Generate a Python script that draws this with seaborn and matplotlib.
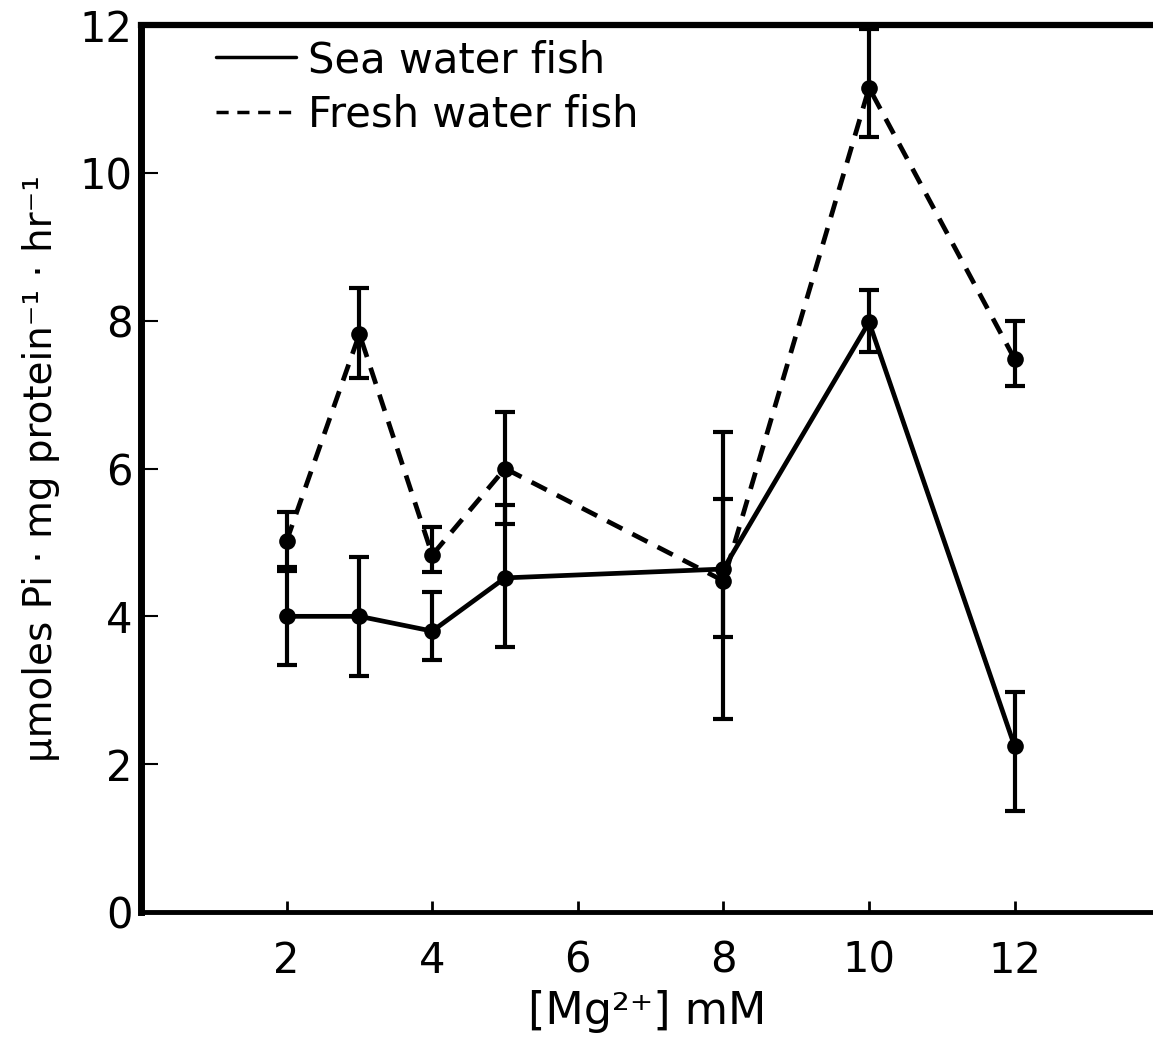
import matplotlib
matplotlib.use("Agg")
import matplotlib.pyplot as plt
import seaborn as sns
import pandas as pd
import numpy as np
from matplotlib.lines import Line2D

# ---- data ----
mg_conc = [2, 3, 4, 5, 8, 10, 12]
sea_mean = [4.0, 4.0, 3.8, 4.52, 4.64, 7.98, 2.24]
sea_low = [3.34, 3.19, 3.41, 3.59, 2.61, 7.58, 1.36]
sea_high = [4.67, 4.8, 4.33, 5.5, 6.5, 8.42, 2.97]
fresh_mean = [5.02, 7.82, 4.83, 6.0, 4.48, 11.15, 7.48]
fresh_low = [4.62, 7.23, 4.6, 5.25, 3.72, 10.49, 7.12]
fresh_high = [5.41, 8.44, 5.21, 6.77, 5.59, 11.95, 8.0]
series_names = ["Sea water fish", "Fresh water fish"]
x_ticks = [2, 4, 6, 8, 10, 12]
y_ticks = [0, 2, 4, 6, 8, 10, 12]

sns.set_theme(style="ticks")
plt.rcParams["font.family"] = ["DejaVu Sans"]
plt.rcParams["mathtext.default"] = "regular"
plt.rcParams["text.color"] = "black"
plt.rcParams["axes.labelcolor"] = "black"
plt.rcParams["xtick.color"] = "black"
plt.rcParams["ytick.color"] = "black"

df = pd.DataFrame({
    "mg": mg_conc * 2,
    "rate": sea_mean + fresh_mean,
    "fish": [series_names[0]] * len(mg_conc) + [series_names[1]] * len(mg_conc),
})

fig = plt.figure(figsize=(11.53, 10.47), dpi=100)
ax = fig.add_axes([141 / 1153, 135 / 1047, (1153 - 141) / 1153, (912 - 25) / 1047])

lw = 3.4
sns.lineplot(data=df, x="mg", y="rate", style="fish", hue="fish",
             palette={series_names[0]: "black", series_names[1]: "black"},
             dashes={series_names[0]: "", series_names[1]: (3.6, 2.4)},
             markers={series_names[0]: "o", series_names[1]: "o"},
             markersize=12, markeredgewidth=0, linewidth=lw, ax=ax,
             legend=False, clip_on=False)

for mean, lo, hi in [(sea_mean, sea_low, sea_high), (fresh_mean, fresh_low, fresh_high)]:
    m = np.array(mean)
    yerr = np.vstack([m - np.array(lo), np.array(hi) - m])
    ax.errorbar(mg_conc, m, yerr=yerr, fmt="none", ecolor="black",
                elinewidth=3, capsize=7.5, capthick=3, clip_on=False)

ax.set_xlim(0, 13.9)
ax.set_ylim(0, 12)
ax.set_xticks(x_ticks)
ax.set_yticks(y_ticks)
ax.set_xticklabels([str(t) for t in x_ticks], fontsize=30)
ax.set_yticklabels([str(t) for t in y_ticks], fontsize=30)
ax.tick_params(axis="x", direction="in", length=8, width=2, pad=20)
ax.tick_params(axis="y", direction="in", length=12, width=1.5, pad=6)

ax.spines["right"].set_visible(False)
ax.spines["left"].set_linewidth(5)
ax.spines["bottom"].set_linewidth(3.5)
ax.spines["top"].set_linewidth(4.5)
for s in ax.spines.values():
    s.set_color("black")

ax.set_xlabel("[Mg²⁺] mM", fontsize=32, labelpad=6)
ax.set_ylabel("µmoles Pi · mg protein⁻¹ · hr⁻¹", fontsize=28, labelpad=14)

handles = [Line2D([], [], color="black", lw=2.5, ls="-"),
           Line2D([], [], color="black", lw=2.5, ls=(0, (3.5, 2.5)))]
ax.legend(handles, series_names, loc="upper left", bbox_to_anchor=(0.058, 1.003),
          frameon=False, fontsize=30, handlelength=1.9, handletextpad=0.3,
          labelspacing=0.3, borderaxespad=0.0)

fig.savefig("out.png", dpi=100)
